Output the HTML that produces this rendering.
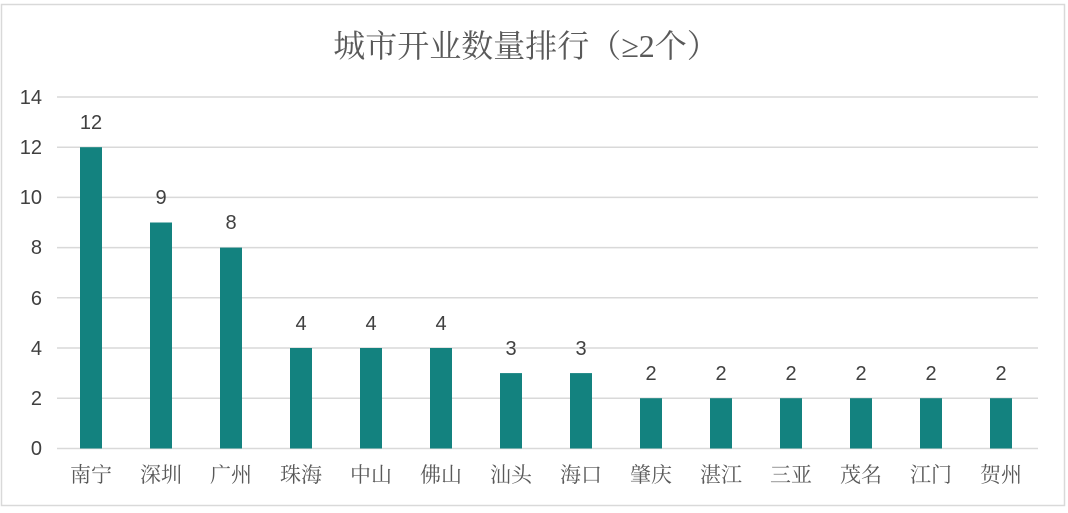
<!DOCTYPE html>
<html><head><meta charset="utf-8"><style>
body{margin:0;background:#fff;width:1068px;height:508px;overflow:hidden}
</style></head><body>
<svg width="1068" height="508" xmlns="http://www.w3.org/2000/svg">
<rect x="1.5" y="4.5" width="1063" height="501" fill="#fff" stroke="#d9d9d9" stroke-width="1.5"/>
<text x="526" y="57" text-anchor="middle" font-family="'Liberation Serif','Noto Serif CJK SC',serif" font-size="32" fill="#595959">城市开业数量排行（≥2个）</text>
<g stroke="#d9d9d9" stroke-width="1.5">
<line x1="57" x2="1038" y1="97" y2="97"/><line x1="57" x2="1038" y1="147.2" y2="147.2"/>
<line x1="57" x2="1038" y1="197.4" y2="197.4"/><line x1="57" x2="1038" y1="247.6" y2="247.6"/>
<line x1="57" x2="1038" y1="297.8" y2="297.8"/><line x1="57" x2="1038" y1="348" y2="348"/>
<line x1="57" x2="1038" y1="398.2" y2="398.2"/><line x1="57" x2="1038" y1="448.5" y2="448.5"/>
</g>
<g font-family="'Liberation Sans',sans-serif" font-size="20" fill="#404040" text-anchor="end">
<text x="42" y="104">14</text><text x="42" y="154">12</text><text x="42" y="204">10</text>
<text x="42" y="254">8</text><text x="42" y="305">6</text><text x="42" y="355">4</text>
<text x="42" y="405">2</text><text x="42" y="455">0</text>
</g>
<g fill="#13827f">
<rect x="80" y="147.2" width="22" height="301.3"/>
<rect x="150" y="222.5" width="22" height="226"/>
<rect x="220" y="247.6" width="22" height="200.9"/>
<rect x="290" y="348" width="22" height="100.5"/>
<rect x="360" y="348" width="22" height="100.5"/>
<rect x="430" y="348" width="22" height="100.5"/>
<rect x="500" y="373.1" width="22" height="75.4"/>
<rect x="570" y="373.1" width="22" height="75.4"/>
<rect x="640" y="398.2" width="22" height="50.3"/>
<rect x="710" y="398.2" width="22" height="50.3"/>
<rect x="780" y="398.2" width="22" height="50.3"/>
<rect x="850" y="398.2" width="22" height="50.3"/>
<rect x="920" y="398.2" width="22" height="50.3"/>
<rect x="990" y="398.2" width="22" height="50.3"/>
</g>
<g font-family="'Liberation Sans',sans-serif" font-size="20" fill="#404040" text-anchor="middle">
<text x="91" y="129">12</text><text x="161" y="204">9</text><text x="231" y="229">8</text>
<text x="301" y="330">4</text><text x="371" y="330">4</text><text x="441" y="330">4</text>
<text x="511" y="355">3</text><text x="581" y="355">3</text><text x="651" y="380">2</text>
<text x="721" y="380">2</text><text x="791" y="380">2</text><text x="861" y="380">2</text>
<text x="931" y="380">2</text><text x="1001" y="380">2</text>
</g>
<g font-family="'Liberation Serif','Noto Serif CJK SC',serif" font-size="21" fill="#595959" text-anchor="middle">
<text x="91" y="482">南宁</text><text x="161" y="482">深圳</text><text x="231" y="482">广州</text>
<text x="301" y="482">珠海</text><text x="371" y="482">中山</text><text x="441" y="482">佛山</text>
<text x="511" y="482">汕头</text><text x="581" y="482">海口</text><text x="651" y="482">肇庆</text>
<text x="721" y="482">湛江</text><text x="791" y="482">三亚</text><text x="861" y="482">茂名</text>
<text x="931" y="482">江门</text><text x="1001" y="482">贺州</text>
</g>
</svg>
</body></html>
